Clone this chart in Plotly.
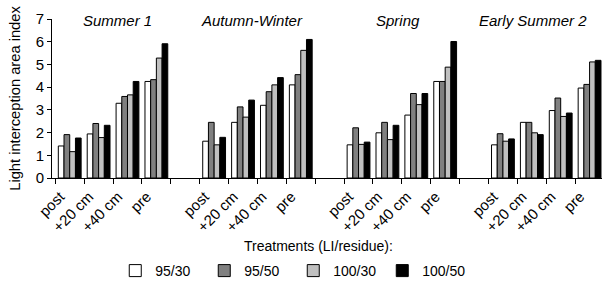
import plotly.graph_objects as go

seasons = ["Summer 1", "Autumn-Winter", "Spring", "Early Summer 2"]
treatments = ["post", "+20 cm", "+40 cm", "pre"]
series_names = ["95/30", "95/50", "100/30", "100/50"]

# values in order: season1(post,+20,+40,pre), season2(...), ...
v95_30 = [1.41, 1.94, 3.29, 4.25, 1.62, 2.45, 3.20, 4.10, 1.46, 1.99, 2.77, 4.25, 1.46, 2.45, 2.97, 3.96]
v95_50 = [1.91, 2.40, 3.59, 4.33, 2.45, 3.13, 3.80, 4.55, 2.21, 2.45, 3.72, 4.25, 1.95, 2.45, 3.52, 4.12]
v100_30 = [1.16, 1.78, 3.66, 5.28, 1.46, 2.68, 4.10, 5.62, 1.48, 1.69, 3.23, 4.88, 1.62, 1.99, 2.71, 5.11]
v100_50 = [1.76, 2.32, 4.25, 5.91, 1.79, 3.43, 4.42, 6.10, 1.58, 2.32, 3.72, 6.01, 1.72, 1.91, 2.86, 5.18]

colors = ["#ffffff", "#808080", "#c0c0c0", "#000000"]
FONT = "Arial, Liberation Sans, sans-serif"

# category slots: 4 per season plus one empty slot between seasons
xpos = [s * 5 + t for s in range(len(seasons)) for t in range(len(treatments))]
xlabels = [t for s in range(len(seasons)) for t in treatments]
n_slots = len(seasons) * 5 - 1
label_shift = -0.33  # rotated labels sit slightly left of the bar groups

fig = go.Figure()
for name, vals, col in zip(series_names, [v95_30, v95_50, v100_30, v100_50], colors):
    fig.add_trace(go.Bar(
        x=xpos, y=vals, name=name,
        marker=dict(color=col, line=dict(color="#000000", width=1)),
    ))

# invisible trace for boundary tick axis
fig.add_trace(go.Scatter(x=[0], y=[0], xaxis="x2", mode="markers",
                         marker=dict(opacity=0), showlegend=False, hoverinfo="skip"))

xr = [-0.614, 18.43]
fig.update_layout(
    width=602, height=287,
    margin=dict(l=52, r=0, t=19, b=105),
    paper_bgcolor="white", plot_bgcolor="white",
    barmode="group", bargap=0.21, bargroupgap=0,
    font=dict(family=FONT, size=14, color="#000000"),
    showlegend=True,
    legend=dict(orientation="h", x=0.115, xanchor="left", y=-0.585, yanchor="middle",
                font=dict(size=14), entrywidth=44, itemwidth=30,
                traceorder="normal", bgcolor="rgba(0,0,0,0)"),
    xaxis=dict(range=xr, tickvals=[p + label_shift for p in xpos], ticktext=xlabels,
               tickangle=-45, ticks="", showline=True, linecolor="#000000", linewidth=1,
               showgrid=False, zeroline=False, tickfont=dict(size=15), automargin=False,
               ticklabelstandoff=3),
    xaxis2=dict(range=xr, overlaying="x", anchor="y", side="bottom",
                tickvals=[k - 0.5 for k in range(n_slots + 1)],
                ticks="outside", ticklen=5, tickcolor="#000000",
                showticklabels=False, showgrid=False, zeroline=False, showline=False,
                automargin=False),
    yaxis=dict(range=[0, 7], dtick=1, ticks="outside", ticklen=4, tickcolor="#000000",
               showline=True, linecolor="#000000", linewidth=1, showgrid=False,
               zeroline=False, tickfont=dict(size=15), automargin=False,
               title=dict(text="Light interception area index", font=dict(size=14.7), standoff=11)),
)

season_x = [1.65, 6.32, 11.37, 16.04]
for sx, sname in zip(season_x, seasons):
    fig.add_annotation(x=sx, y=6.95, xref="x", yref="y", text="<i>" + sname + "</i>",
                       showarrow=False, font=dict(size=15, family=FONT), yanchor="middle")

fig.add_annotation(x=(318 - 52) / 550, y=(182 - 252) / 163, xref="paper", yref="paper",
                   text="Treatments (LI/residue):", showarrow=False,
                   font=dict(size=14), yanchor="middle")

fig.write_html("out.html", config={"displayModeBar": False},
               post_script="document.body.style.margin='0';")
